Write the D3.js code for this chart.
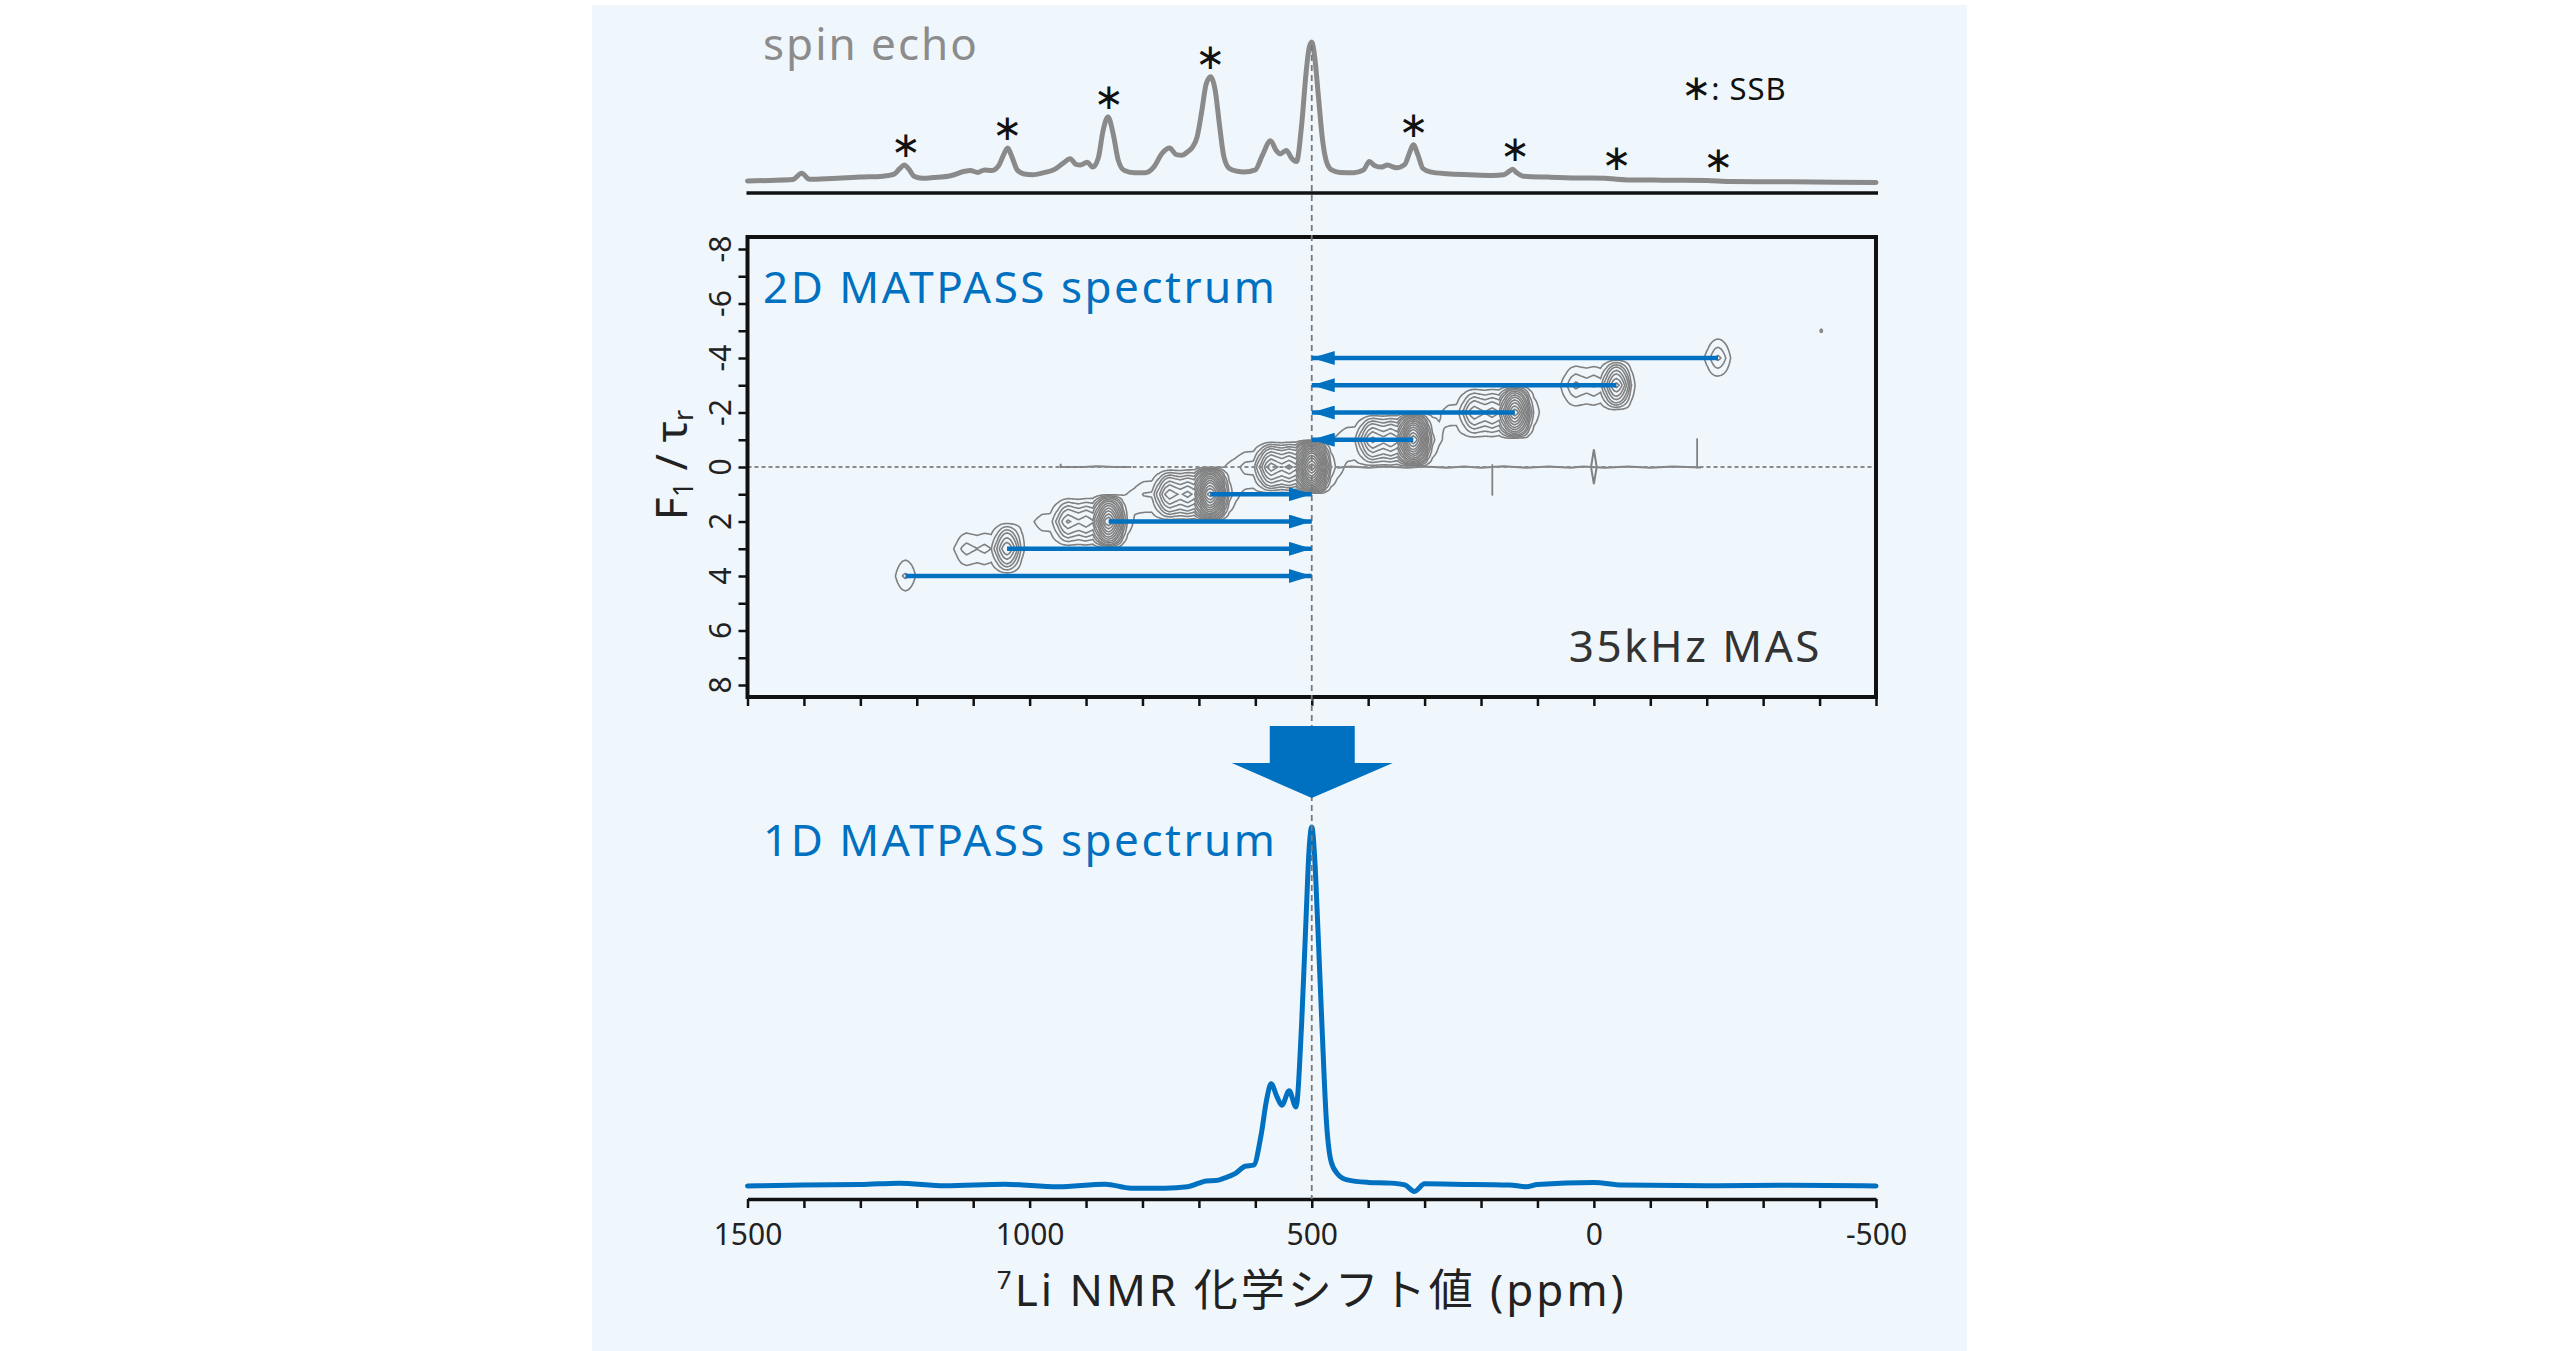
<!DOCTYPE html>
<html>
<head>
<meta charset="utf-8">
<script src="https://cdn.jsdelivr.net/npm/d3@7"></script>
<style>
  body { margin: 0; background: #fff; }
  text { font-family: "Noto Sans", "Noto Sans CJK JP", sans-serif; }
</style>
</head>
<body>
<div id="chart"></div>
<script>
// ---- values ----
const ppmTicks = [1500, 1000, 500, 0, -500];
const f1Ticks = [-8, -6, -4, -2, 0, 2, 4, 6, 8];
const centerPpm = 500;
const ssbSpacing = 180;               // 35 kHz MAS in ppm
const ssbOrder = [4, 3, 2, 1, -1, -2, -3, -4];
const ssbPpm = [1220, 1040, 860, 680, 320, 140, -40, -220];

// spin echo spectrum [ppm, intensity]
const spinEcho = [
  [1500,0.0],[1460,0.004],[1420,0.01],[1404,0.055],[1390,0.012],[1350,0.018],[1300,0.028],[1260,0.035],
  [1240,0.05],[1230,0.09],[1222,0.115],[1214,0.085],[1205,0.035],[1190,0.02],[1170,0.025],[1140,0.038],
  [1115,0.07],[1105,0.075],[1092,0.062],[1080,0.08],[1068,0.075],[1055,0.11],[1047,0.18],[1039,0.237],
  [1031,0.17],[1022,0.08],[1010,0.05],[995,0.045],[975,0.06],[955,0.085],[940,0.13],[928,0.16],
  [918,0.12],[910,0.115],[898,0.135],[888,0.1],[878,0.17],[870,0.36],[861,0.46],[852,0.34],[843,0.15],
  [832,0.075],[815,0.06],[795,0.06],[780,0.1],[765,0.2],[752,0.237],[740,0.19],[730,0.185],[720,0.21],
  [712,0.24],[703,0.32],[695,0.5],[687,0.7],[679,0.75],[671,0.65],[664,0.42],[656,0.18],[646,0.09],
  [632,0.07],[620,0.065],[600,0.08],[588,0.18],[573,0.29],[563,0.22],[556,0.195],[545,0.22],[535,0.16],
  [527,0.14],[518,0.4],[510,0.78],[505,0.95],[500,1.0],[495,0.9],[488,0.6],[481,0.3],[474,0.14],
  [465,0.08],[450,0.062],[425,0.06],[408,0.08],[398,0.14],[388,0.11],[376,0.1],[366,0.115],[350,0.095],
  [335,0.12],[327,0.2],[320,0.26],[312,0.19],[303,0.09],[290,0.066],[260,0.052],[220,0.045],[180,0.04],
  [160,0.045],[150,0.07],[144,0.084],[137,0.06],[125,0.035],[80,0.028],[30,0.022],[-20,0.02],[-40,0.012],
  [-60,0.008],[-120,0.006],[-200,0.004],[-240,-0.003],[-350,-0.006],[-500,-0.01]
];

// 1D MATPASS spectrum [ppm, intensity]
const matpass1D = [
  [1500,0.0],[1400,0.003],[1300,0.004],[1232,0.008],[1150,0.001],[1045,0.005],[950,-0.002],[866,0.005],
  [820,-0.006],[760,-0.006],[720,-0.002],[700,0.008],[687,0.014],[670,0.015],[655,0.022],[635,0.035],
  [618,0.055],[603,0.058],[590,0.14],[580,0.24],[572,0.285],[562,0.25],[553,0.225],[540,0.265],
  [528,0.22],[518,0.45],[510,0.75],[505,0.93],[500,1.0],[495,0.92],[490,0.75],[482,0.45],[474,0.18],
  [466,0.07],[455,0.035],[437,0.017],[400,0.01],[360,0.008],[335,0.003],[318,-0.015],[300,0.006],
  [250,0.005],[150,0.003],[120,-0.002],[100,0.004],[0,0.01],[-50,0.003],[-200,0.001],[-350,0.002],[-500,0.0]
];

// 2D MATPASS: amplitude of each sideband row (F1 order) and contour levels
const rowOrder = [-4, -3, -2, -1, 0, 1, 2, 3, 4];
const rowAmp = [3.3, 12, 25, 35, 45, 38, 26, 9, 2.2];
const contourLevels = [1, 2, 3, 4, 5.5, 7, 9, 11, 13.5, 16, 19, 22, 26, 30, 35, 40, 45];

// small artifacts of the 2D plot [ppm, F1]
const noiseLines = [
  [[945,-0.12],[945,0.0],[905,0.0],[880,-0.03],[850,0.0],[820,0.0]],
  [[455,0.03],[430,-0.02],[400,0.03],[370,-0.02],[330,0.03],[300,-0.02],[260,0.03],[230,-0.02],
   [200,0.03],[160,-0.03],[120,0.03],[80,-0.02],[40,0.03],[20,-0.02],[-20,0.03],[-60,-0.02],
   [-100,0.03],[-140,-0.02],[-190,0.02]]
];
const spikes = [[180, -0.1, 1.05], [-183, -1.05, 0.05]];
const diamond = [[0,-0.65],[5,0],[0,0.63],[-5,0],[0,-0.65]];
const dot = [-403, -5.0];

// ---- layout ----
const W = 2560, H = 1351;
const blue = "#0070c0", gray = "#8a8a8a";

const svg = d3.select("#chart").append("svg")
    .attr("width", W).attr("height", H);

svg.append("rect").attr("x", 592).attr("y", 5).attr("width", 1375).attr("height", 1346)
    .attr("fill", "#f0f7fc");

// scales
const x = d3.scaleLinear().domain([1500, -500]).range([747.5, 1876]);
const yTop = d3.scaleLinear().domain([0, 1]).range([181, 42]);
const yF1 = d3.scaleLinear().domain([-8, 8]).range([249, 685]);
const yBot = d3.scaleLinear().domain([0, 1]).range([1186, 827]);

const box = {top: 237, bottom: 697, left: x(1500), right: x(-500)};

// ---- spin echo ----
svg.append("path")
    .datum(spinEcho.slice().sort((a, b) => b[0] - a[0]))
    .attr("fill", "none").attr("stroke", gray).attr("stroke-width", 5)
    .attr("stroke-linejoin", "round").attr("stroke-linecap", "round")
    .attr("d", d3.line().x(d => x(d[0])).y(d => yTop(d[1])).curve(d3.curveMonotoneX));

svg.append("line")
    .attr("x1", box.left - 1).attr("x2", box.right + 2).attr("y1", 193).attr("y2", 193)
    .attr("stroke", "#111").attr("stroke-width", 3.5);

svg.append("text").attr("x", 763).attr("y", 60)
    .attr("font-size", 44).attr("letter-spacing", 2).attr("fill", "#8c8c8c")
    .text("spin echo");

// asterisks over the spinning sidebands
svg.selectAll(".ssb")
    .data(ssbPpm)
    .enter().append("text")
    .attr("class", "ssb")
    .attr("x", d => x(d))
    .attr("y", d => {
        const local = d3.max(spinEcho.filter(p => Math.abs(p[0] - d) <= 25), p => p[1]);
        return yTop(local) - 8;
    })
    .attr("text-anchor", "middle")
    .attr("font-size", 36)
    .style("font-family", "DejaVu Sans")
    .attr("fill", "#111")
    .text("∗");

const legend = svg.append("text").attr("x", 1681).attr("y", 100).attr("fill", "#111");
legend.append("tspan").style("font-family", "DejaVu Sans").attr("font-size", 36).text("∗");
legend.append("tspan").attr("font-size", 31).attr("letter-spacing", 1).text(": SSB");

// ---- 2D MATPASS contour plot ----
svg.append("clipPath").attr("id", "boxclip")
    .append("rect")
    .attr("x", box.left).attr("y", box.top)
    .attr("width", box.right - box.left).attr("height", box.bottom - box.top);

// each F1 row is the isotropic (1D MATPASS) line shifted by one sideband spacing
const asc = matpass1D.slice().sort((a, b) => a[0] - b[0]);
const ascPpm = asc.map(d => d[0]);
function lineAt(p) {
    if (p < ascPpm[0] || p > ascPpm[ascPpm.length - 1]) return 0;
    const i = Math.max(1, d3.bisectLeft(ascPpm, p));
    const a = asc[i - 1], b = asc[i];
    return a[1] + (p - a[0]) / (b[0] - a[0]) * (b[1] - a[1]);
}

const step = 2;
const nx = (1500 - (-500)) / step + 1;
const f1Rows = d3.range(-8, 9);
const ampOf = new Map(rowOrder.map((o, i) => [o, rowAmp[i]]));
const grid = new Array(nx * f1Rows.length);
f1Rows.forEach((n, r) => {
    const A = ampOf.get(n) || 0;
    for (let j = 0; j < nx; j++) {
        grid[r * nx + j] = A * lineAt(1500 - j * step - ssbSpacing * n);
    }
});

const contours = d3.contours()
    .size([nx, f1Rows.length])
    .thresholds(contourLevels)(grid);

const gridPath = d3.geoPath(d3.geoTransform({
    point: function(gx, gy) {
        this.stream.point(x(1500 - (gx - 0.5) * step), yF1(-8 + gy - 0.5));
    }
}));

const g2d = svg.append("g").attr("clip-path", "url(#boxclip)");

g2d.selectAll(".contour")
    .data(contours)
    .enter().append("path")
    .attr("class", "contour")
    .attr("d", gridPath)
    .attr("fill", "none")
    .attr("stroke", "#808080")
    .attr("stroke-width", 1.6);

const ppmLine = d3.line().x(d => x(d[0])).y(d => yF1(d[1]));
g2d.selectAll(".noise")
    .data(noiseLines.concat([diamond]))
    .enter().append("path")
    .attr("d", ppmLine)
    .attr("fill", "none").attr("stroke", "#808080").attr("stroke-width", 2);

g2d.selectAll(".spike")
    .data(spikes)
    .enter().append("line")
    .attr("x1", d => x(d[0])).attr("x2", d => x(d[0]))
    .attr("y1", d => yF1(d[1])).attr("y2", d => yF1(d[2]))
    .attr("stroke", "#808080").attr("stroke-width", 1.8);

g2d.append("ellipse")
    .attr("cx", x(dot[0])).attr("cy", yF1(dot[1])).attr("rx", 2).attr("ry", 2.5)
    .attr("fill", "#8a8a8a");

// F1 = 0 reference line
g2d.append("line")
    .attr("x1", box.left).attr("x2", box.right).attr("y1", yF1(0)).attr("y2", yF1(0))
    .attr("stroke", "#8a8a8a").attr("stroke-width", 2).attr("stroke-dasharray", "4 3");

// box with ticks
svg.append("rect")
    .attr("x", box.left).attr("y", box.top)
    .attr("width", box.right - box.left).attr("height", box.bottom - box.top)
    .attr("fill", "none").attr("stroke", "#111").attr("stroke-width", 4);

const boxBottom = svg.append("g")
    .attr("transform", `translate(0,${box.bottom})`)
    .call(d3.axisBottom(x).tickValues(d3.range(1500, -501, -100)).tickSize(9).tickFormat(""));
boxBottom.select(".domain").remove();
boxBottom.selectAll(".tick line").attr("stroke", "#111").attr("stroke-width", 2.5);

const boxLeft = svg.append("g")
    .attr("transform", `translate(${box.left},0)`)
    .call(d3.axisLeft(yF1).tickValues(d3.range(-8, 9)).tickSize(9).tickFormat(""));
boxLeft.select(".domain").remove();
boxLeft.selectAll(".tick line").attr("stroke", "#111").attr("stroke-width", 2.5);

svg.selectAll(".f1label")
    .data(f1Ticks)
    .enter().append("text")
    .attr("class", "f1label")
    .attr("transform", d => `translate(731,${yF1(d)}) rotate(-90)`)
    .attr("text-anchor", "middle")
    .attr("font-size", 30)
    .attr("fill", "#222")
    .text(d => String(d));

const f1Title = svg.append("text")
    .attr("transform", "translate(687,465) rotate(-90)")
    .attr("text-anchor", "middle")
    .attr("font-size", 44)
    .attr("fill", "#222");
f1Title.append("tspan").text("F");
f1Title.append("tspan").attr("font-size", 27).attr("dy", 6).text("1");
f1Title.append("tspan").attr("dy", -6).text(" / τ");
f1Title.append("tspan").attr("font-size", 27).attr("dy", 6).text("r");

svg.append("text").attr("x", 763).attr("y", 303)
    .attr("font-size", 44).attr("letter-spacing", 2.5).attr("fill", blue)
    .text("2D MATPASS spectrum");

svg.append("text").attr("x", 1822).attr("y", 662)
    .attr("text-anchor", "end")
    .attr("font-size", 44).attr("letter-spacing", 2.5).attr("fill", "#333")
    .text("35kHz MAS");

// ---- 1D MATPASS ----
svg.append("path")
    .datum(matpass1D.slice().sort((a, b) => b[0] - a[0]))
    .attr("fill", "none").attr("stroke", blue).attr("stroke-width", 5)
    .attr("stroke-linejoin", "round").attr("stroke-linecap", "round")
    .attr("d", d3.line().x(d => x(d[0])).y(d => yBot(d[1])).curve(d3.curveMonotoneX));

svg.append("text").attr("x", 763).attr("y", 856)
    .attr("font-size", 44).attr("letter-spacing", 2.5).attr("fill", blue)
    .text("1D MATPASS spectrum");

// bottom axis
const axis = svg.append("g")
    .attr("transform", "translate(0,1199)")
    .call(d3.axisBottom(x)
        .tickValues(d3.range(1500, -501, -100))
        .tickSize(9).tickSizeOuter(0).tickPadding(16)
        .tickFormat(d => ppmTicks.includes(d) ? String(d) : ""));
axis.select(".domain").attr("stroke", "#111").attr("stroke-width", 3.5);
axis.selectAll(".tick line").attr("stroke", "#111").attr("stroke-width", 2.5);
axis.selectAll(".tick text")
    .attr("font-size", 30).attr("fill", "#222")
    .style("font-family", "'Noto Sans', sans-serif");

const xTitle = svg.append("text")
    .attr("x", x(centerPpm)).attr("y", 1306)
    .attr("text-anchor", "middle")
    .attr("font-size", 44).attr("letter-spacing", 3)
    .attr("fill", "#222");
xTitle.append("tspan").attr("font-size", 26).attr("dy", -17).text("7");
xTitle.append("tspan").attr("dy", 17).text("Li NMR 化学シフト値 (ppm)");

// ---- guides and arrows ----
svg.append("line")
    .attr("x1", x(centerPpm)).attr("x2", x(centerPpm)).attr("y1", 45).attr("y2", 1199)
    .attr("stroke", "#7a7a7a").attr("stroke-width", 1.8).attr("stroke-dasharray", "6 4");

svg.append("defs").append("marker")
    .attr("id", "head")
    .attr("markerUnits", "userSpaceOnUse")
    .attr("markerWidth", 24).attr("markerHeight", 14)
    .attr("refX", 23).attr("refY", 7)
    .attr("orient", "auto")
    .append("path").attr("d", "M0,0 L23,7 L0,14 Z").attr("fill", blue);

svg.selectAll(".ssbArrow")
    .data(ssbPpm)
    .enter().append("line")
    .attr("class", "ssbArrow")
    .attr("x1", d => x(d)).attr("x2", x(centerPpm))
    .attr("y1", (d, i) => yF1(ssbOrder[i])).attr("y2", (d, i) => yF1(ssbOrder[i]))
    .attr("stroke", blue).attr("stroke-width", 4.5)
    .attr("marker-end", "url(#head)");

// big arrow from the 2D to the 1D spectrum
const cx = x(centerPpm);
svg.append("path")
    .attr("d", `M${cx - 42},726 L${cx + 43},726 L${cx + 43},763 L${cx + 81},763 L${cx},798 L${cx - 80},763 L${cx - 42},763 Z`)
    .attr("fill", blue);
</script>
</body>
</html>
